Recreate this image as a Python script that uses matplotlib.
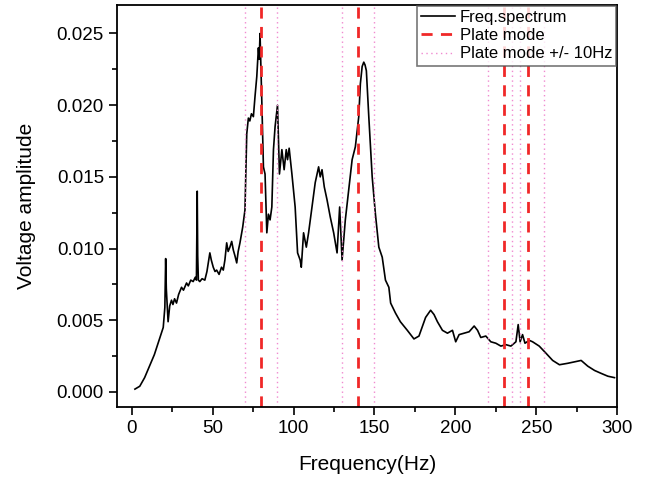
import matplotlib
matplotlib.use("Agg")
import matplotlib.pyplot as plt
from matplotlib.ticker import MultipleLocator, AutoMinorLocator

plt.rcParams["font.family"] = ["Liberation Sans", "DejaVu Sans"]

# spectrum
freq = [2, 5, 8, 11, 14, 16, 18, 19.5, 20.5, 21, 21.4, 22.5, 23.5, 24.6, 25.5, 26.5,
        27.7, 29, 30.8, 32, 33.9, 35, 36.5, 38, 39.3, 40, 40.5, 40.8, 41.2, 42.1,
        43.5, 45.2, 46.5, 48.3, 49.2, 50.4, 51.5, 52.5, 54, 55.5, 56.6, 57.6, 58.7,
        59.6, 60.7, 61.8, 62.8, 63.8, 64.9, 65.8, 66.9, 68.6, 70, 71.1, 72.1, 73,
        74, 75.2, 76.2, 77.3, 78.3, 78.8, 79.3, 80.4, 81.4, 82.4, 83.5, 84.5, 85.5,
        86.6, 87.6, 88.6, 90.1, 91.3, 92.8, 94.2, 95.5, 96.3, 97.3, 99, 101, 102.5,
        104.1, 104.8, 106.2, 107.9, 109.3, 111.4, 113.4, 115.5, 116.5, 117.6, 119,
        120.7, 122.7, 124.8, 126.9, 128.5, 130, 132, 134.1, 136.2, 138.2, 140.3,
        141.3, 142.4, 143.4, 144.2, 145, 146.5, 148.6, 150.6, 152.7, 154.8, 156.8,
        158.9, 160, 163, 166, 170.3, 174.4, 177.5, 181.6, 184.7, 186.8, 188.9, 192,
        195.1, 198.2, 200.2, 202.3, 205.4, 208.5, 211.6, 213.7, 215.7, 218.8, 221.9,
        225, 228.1, 231.2, 234.3, 237.4, 238.8, 240, 241.5, 243, 245.7, 247.7,
        251.8, 256, 260.1, 264.3, 269.4, 273.6, 277.7, 281.8, 286, 290, 294.2,
        298.3]
amp = [0.0002, 0.0004, 0.0010, 0.0018, 0.0026, 0.0033, 0.0040, 0.0045, 0.0059,
       0.0093, 0.0072, 0.0049, 0.0060, 0.0064, 0.0061, 0.0065, 0.0062, 0.0068,
       0.0073, 0.0071, 0.0076, 0.0074, 0.0078, 0.0077, 0.0080, 0.0078, 0.0140,
       0.0095, 0.0078, 0.0077, 0.0079, 0.0078, 0.0084, 0.0097, 0.0092, 0.0087,
       0.0084, 0.0085, 0.0082, 0.0087, 0.0085, 0.0092, 0.0104, 0.0098, 0.0101,
       0.0105, 0.0099, 0.0095, 0.0090, 0.0098, 0.0104, 0.0115, 0.0127, 0.0180,
       0.0191, 0.0189, 0.0194, 0.0192, 0.0206, 0.0220, 0.0240, 0.0232, 0.0250,
       0.0203, 0.0157, 0.0152, 0.0111, 0.0124, 0.0120, 0.0129, 0.0169, 0.0185,
       0.0200, 0.0152, 0.0169, 0.0155, 0.0169, 0.0162, 0.0170, 0.0152, 0.0129,
       0.0097, 0.0092, 0.0087, 0.0111, 0.0101, 0.0111, 0.0129, 0.0146, 0.0157,
       0.0150, 0.0155, 0.0143, 0.0134, 0.0122, 0.0111, 0.0097, 0.0129, 0.0092,
       0.0120, 0.0141, 0.0162, 0.0171, 0.0192, 0.0215, 0.0227, 0.0230, 0.0228,
       0.0224, 0.0192, 0.0150, 0.0124, 0.0101, 0.0094, 0.0078, 0.0073, 0.0062,
       0.0055, 0.0049, 0.0043, 0.0037, 0.0039, 0.0052, 0.0057, 0.0054, 0.0049,
       0.0043, 0.0041, 0.0043, 0.0035, 0.0040, 0.0041, 0.0042, 0.0046, 0.0043,
       0.0038, 0.0039, 0.0035, 0.0034, 0.0032, 0.0033, 0.0032, 0.0035, 0.0047,
       0.0035, 0.0040, 0.0034, 0.0036, 0.0035, 0.0032, 0.0027, 0.0022, 0.0019,
       0.0020, 0.0021, 0.0022, 0.0018, 0.0015, 0.0013, 0.0011, 0.0010]

plate_modes = [80, 140, 230, 245]
band = 10

fig = plt.figure(figsize=(6.47, 4.80), dpi=100)
ax = fig.add_axes([0.181, 0.152, 0.773, 0.838])

ax.plot(freq, amp, color="black", lw=1.2, label="Freq.spectrum")

for i, m in enumerate(plate_modes):
    ax.axvline(m, color="#f02828", ls=(0, (4, 3)), lw=2,
               label="Plate mode" if i == 0 else None)
    for j, d in enumerate([-band, band]):
        ax.axvline(m + d, color="#f08ad0", ls=(0, (1, 2.5)), lw=1,
                   label="Plate mode +/- 10Hz" if i == 0 and j == 0 else None)

ax.set_xlim(-9, 300)
ax.set_ylim(-0.00105, 0.027)
ax.xaxis.set_major_locator(MultipleLocator(50))
ax.xaxis.set_minor_locator(AutoMinorLocator(2))
ax.yaxis.set_major_locator(MultipleLocator(0.005))
ax.yaxis.set_minor_locator(AutoMinorLocator(2))
ax.yaxis.set_major_formatter(plt.FormatStrFormatter("%.3f"))
ax.tick_params(which="both", direction="out", top=False, right=False,
               labelsize=13.5)
ax.tick_params(which="major", length=6, width=1.2)
ax.tick_params(which="minor", length=3.5, width=1.2)
for s in ax.spines.values():
    s.set_linewidth(1.3)

ax.set_xlabel("Frequency(Hz)", fontsize=15, labelpad=13)
ax.set_ylabel("Voltage amplitude", fontsize=15, labelpad=15)

leg = ax.legend(loc="upper right", fontsize=12, frameon=True, fancybox=False,
                borderpad=0.25, labelspacing=0.2, handlelength=2.0,
                handletextpad=0.3, borderaxespad=0.05)
leg.get_frame().set_edgecolor("#555555")
leg.get_frame().set_linewidth(1.2)

plt.savefig("out.png", dpi=100)
plt.close()
